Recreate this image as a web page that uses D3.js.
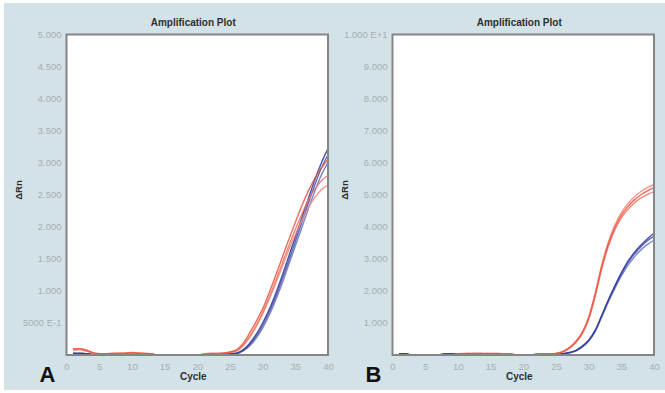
<!DOCTYPE html>
<html>
<head>
<meta charset="utf-8">
<script src="https://cdn.jsdelivr.net/npm/d3@7"></script>
<style>
  body { margin: 0; background: #fff; }
  text { font-family: "Liberation Sans", Arial, sans-serif; }
</style>
</head>
<body>
<div id="root"></div>
<script>
const width = 665;
const height = 393;

// cycles on the x axis
const cycles = [1,2,3,4,5,6,7,8,9,10,11,12,13,14,15,16,17,18,19,20,
  21,22,23,24,25,26,27,28,29,30,31,32,33,34,35,36,37,38,39,40];

// panel A  (delta Rn)
const aRed1 = [0.10,0.10,0.08,0.04,0.02,0.02,0.03,0.03,0.03,0.04,0.03,0.03,0.02,0,0,0,0,0,0,0,
  0.01,0.02,0.03,0.03,0.05,0.08,0.18,0.34,0.52,0.72,0.97,1.24,1.52,1.80,2.07,2.33,2.56,2.76,2.92,3.05];
const aRed2 = [0.09,0.09,0.07,0.03,0.02,0.01,0.02,0.02,0.03,0.03,0.03,0.02,0.01,0,0,0,0,0,0,0,
  0.02,0.03,0.02,0.03,0.04,0.07,0.15,0.29,0.46,0.66,0.90,1.16,1.43,1.70,1.96,2.20,2.42,2.59,2.72,2.80];
const aRed3 = [0.07,0.08,0.06,0.03,0.01,0.02,0.02,0.03,0.02,0.02,0.03,0.02,0.02,0,0,0,0,0,0,0,
  0.01,0.02,0.02,0.03,0.04,0.06,0.14,0.27,0.44,0.64,0.87,1.12,1.38,1.64,1.88,2.10,2.30,2.46,2.58,2.65];
const aBlue1 = [0.03,0.03,0.02,0.01,0.01,0.01,0.02,0.02,0.02,0.01,0.02,0.01,0.01,0,0,0,0,0,0,0,
  0,0.01,0.01,0.02,0.02,0.03,0.08,0.18,0.32,0.50,0.71,0.96,1.24,1.54,1.84,2.14,2.44,2.74,3.00,3.22];
const aBlue2 = [0.03,0.02,0.02,0.01,0.01,0.02,0.01,0.02,0.01,0.02,0.01,0.02,0.01,0,0,0,0,0,0,0,
  0,0.01,0.01,0.01,0.02,0.03,0.07,0.16,0.29,0.46,0.67,0.91,1.18,1.47,1.77,2.07,2.37,2.66,2.92,3.12];
const aBlue3 = [0.02,0.03,0.02,0.01,0.01,0.01,0.02,0.01,0.02,0.02,0.01,0.01,0.01,0,0,0,0,0,0,0,
  0,0.01,0.01,0.02,0.02,0.02,0.06,0.14,0.26,0.42,0.62,0.86,1.12,1.41,1.70,1.99,2.28,2.56,2.81,3.00];

// panel B  (delta Rn)
const bRed1 = [0,0,0,0,0,0,0,0,0,0.04,0.05,0.04,0.05,0.04,0.05,0.04,0.03,0.04,0,0,0,0.02,0.03,0.03,
  0.05,0.10,0.22,0.40,0.68,1.15,1.88,2.75,3.45,3.98,4.36,4.63,4.84,5.00,5.12,5.22];
const bRed2 = [0,0,0,0,0,0,0,0,0,0.03,0.04,0.05,0.04,0.05,0.04,0.05,0.04,0.03,0,0,0,0.02,0.02,0.03,
  0.04,0.09,0.20,0.38,0.65,1.10,1.82,2.68,3.38,3.90,4.28,4.54,4.74,4.90,5.01,5.10];
const bRed3 = [0,0,0,0,0,0,0,0,0,0.04,0.04,0.05,0.05,0.04,0.04,0.05,0.04,0.04,0,0,0,0.02,0.03,0.03,
  0.05,0.11,0.23,0.42,0.71,1.19,1.93,2.81,3.52,4.05,4.44,4.72,4.94,5.10,5.22,5.32];
const bBlue1 = [0.04,0.04,0,0,0,0,0,0.03,0.04,0.04,0.03,0,0,0,0,0,0,0,0,0,0,0.02,0.03,0.03,
  0.03,0.04,0.08,0.14,0.27,0.46,0.77,1.23,1.71,2.15,2.56,2.92,3.20,3.43,3.63,3.80];
const bBlue2 = [0.04,0.03,0,0,0,0,0,0.04,0.03,0.04,0.04,0,0,0,0,0,0,0,0,0,0,0.02,0.02,0.03,
  0.02,0.03,0.07,0.13,0.26,0.45,0.76,1.22,1.70,2.13,2.53,2.88,3.15,3.38,3.57,3.70];
const bBlue3 = [0.03,0.04,0,0,0,0,0,0.03,0.04,0.03,0.04,0,0,0,0,0,0,0,0,0,0,0.02,0.03,0.02,
  0.02,0.03,0.06,0.12,0.24,0.43,0.73,1.18,1.65,2.07,2.46,2.80,3.06,3.28,3.45,3.58];

// ticks
const xTicks = [0,5,10,15,20,25,30,35,40];
const yTicksA = [0,0.5,1,1.5,2,2.5,3,3.5,4,4.5,5];
const yLabelsA = ['', '5000 E-1', '1.000', '1.500', '2.000', '2.500', '3.000', '3.500', '4.000', '4.500', '5.000'];
const yTicksB = [0,1,2,3,4,5,6,7,8,9,10];
const yLabelsB = ['', '1.000', '2.000', '3.000', '4.000', '5.000', '6.000', '7.000', '8.000', '9.000', '1.000 E+1'];

const reds = ['#f2887a', '#ef7362', '#e9523e'];
const blues = ['#6670bd', '#4550aa', '#2c3799'];

const svg = d3.select('#root')
  .append('svg')
  .attr('width', width).attr('height', height);

svg.append('rect')
  .attr('x', 4).attr('y', 3)
  .attr('width', width - 4).attr('height', height - 6)
  .attr('fill', '#d3e2e7');

function drawPanel(p) {
  var x = d3.scaleLinear().domain([0, 40]).range([p.left, p.right]);
  var y = d3.scaleLinear().domain([0, p.ymax]).range([p.bottom, p.top]);

  svg.append('rect')
    .attr('x', p.left).attr('y', p.top)
    .attr('width', p.right - p.left).attr('height', p.bottom - p.top)
    .attr('fill', '#fff');

  var line = d3.line()
    .x((d, i) => x(cycles[i]))
    .y(d => y(d))
    .curve(d3.curveMonotoneX);

  var g = svg.append('g');
  p.series.forEach(s => {
    g.append('path')
      .attr('d', line(s.values))
      .attr('fill', 'none')
      .attr('stroke', s.color)
      .attr('stroke-width', 1.4)
      .attr('stroke-opacity', 0.85);
  });

  // frame on top so zero baseline hides under it
  svg.append('rect')
    .attr('x', p.left).attr('y', p.top)
    .attr('width', p.right - p.left).attr('height', p.bottom - p.top)
    .attr('fill', 'none')
    .attr('stroke', '#858585')
    .attr('stroke-width', 2);

  var xAxis = d3.axisBottom(x).tickValues(xTicks).tickSize(0).tickPadding(8);
  var yAxis = d3.axisLeft(y).tickValues(p.yTicks).tickSize(0).tickPadding(5)
    .tickFormat((d, i) => p.yLabels[i]);

  var gx = svg.append('g')
    .attr('transform', `translate(0, ${p.bottom})`)
    .call(xAxis);
  var gy = svg.append('g')
    .attr('transform', `translate(${p.left}, 0)`)
    .call(yAxis);
  [gx, gy].forEach(a => {
    a.select('.domain').remove();
    a.selectAll('text')
      .attr('fill', '#a8aeb0')
      .style('font-size', '9.5px');
  });

  var cx = (p.left + p.right) / 2 - 4;
  svg.append('text')
    .attr('x', cx).attr('y', 26)
    .attr('text-anchor', 'middle')
    .style('font-size', '10px').style('font-weight', 'bold')
    .attr('fill', '#2e2e2e')
    .text('Amplification Plot');

  svg.append('text')
    .attr('x', cx).attr('y', 380)
    .attr('text-anchor', 'middle')
    .style('font-size', '10px').style('font-weight', 'bold')
    .attr('fill', '#2e2e2e')
    .text('Cycle');

  svg.append('text')
    .attr('transform', `translate(${p.left - 45}, 190) rotate(-90)`)
    .attr('text-anchor', 'middle')
    .style('font-size', '9.5px').style('font-weight', 'bold')
    .attr('fill', '#2e2e2e')
    .text('\u0394Rn');

  svg.append('text')
    .attr('x', p.left - 27).attr('y', 382)
    .style('font-size', '22px').style('font-weight', 'bold')
    .attr('fill', '#111')
    .text(p.letter);
}

drawPanel({
  left: 66.5, right: 328, top: 34.5, bottom: 355, ymax: 5,
  yTicks: yTicksA, yLabels: yLabelsA, letter: 'A',
  series: [
    {values: aBlue3, color: blues[0]}, {values: aBlue2, color: blues[1]}, {values: aBlue1, color: blues[2]},
    {values: aRed3, color: reds[0]}, {values: aRed2, color: reds[1]}, {values: aRed1, color: reds[2]}
  ]
});

drawPanel({
  left: 392.5, right: 654, top: 34.5, bottom: 355, ymax: 10,
  yTicks: yTicksB, yLabels: yLabelsB, letter: 'B',
  series: [
    {values: bBlue3, color: blues[0]}, {values: bBlue2, color: blues[1]}, {values: bBlue1, color: blues[2]},
    {values: bRed3, color: reds[0]}, {values: bRed2, color: reds[1]}, {values: bRed1, color: reds[2]}
  ]
});
</script>
</body>
</html>
